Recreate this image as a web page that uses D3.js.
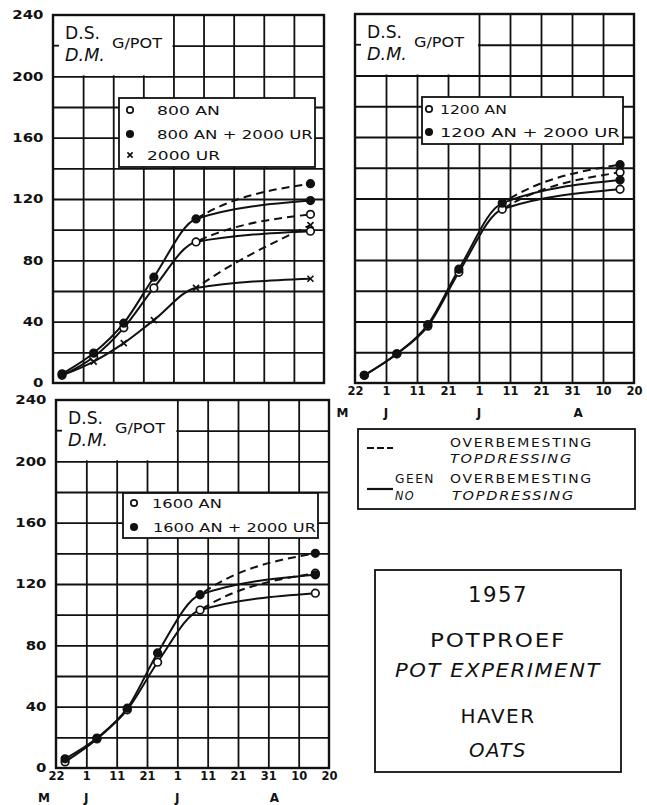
<!DOCTYPE html>
<html lang="nl">
<meta charset="utf-8">
<script src="https://d3js.org/d3.v7.min.js"></script>
<style>
  body { margin: 0; background: #fff; }
  text { font-family: "DejaVu Sans", sans-serif; fill: #111; }
  .grid line { stroke: #111; stroke-width: 1.8; }
  .grid path { display: none; }
  .frame { fill: none; stroke: #111; stroke-width: 2.4; }
  .curve { fill: none; stroke: #111; stroke-width: 2; }
  .dash { stroke-dasharray: 8 5; }
  .box { fill: #fff; stroke: #111; stroke-width: 1.8; }
  .lbl path { display: none; }
  .lbl text { font-size: 11.5px; font-weight: bold; fill: #111; font-family: "DejaVu Sans", sans-serif; }
</style>
<body>
<svg width="647" height="805"></svg>
<script>
// harvest dates, days after 22 May 1957
var sampleDays = [3, 13.5, 23.5, 33.5, 47.5];
var lastDay = 85.5;

var dayTicks = [0, 10, 20, 30, 40, 50, 60, 70, 80, 90];
var dayLabels = ["22", "1", "11", "21", "1", "11", "21", "31", "10", "20"];
var monthDays = [-4, 10, 40, 72];
var monthLabels = ["M", "J", "J", "A"];
var yTicks = [0, 40, 80, 120, 160, 200, 240];

// dry matter g/pot; last value: [topdressing, no topdressing]
var an800 = [5, 17, 36, 62, 92],       an800End = [110, 99];
var an800ur = [6, 19.5, 39, 69, 107],  an800urEnd = [130, 119];
var ur2000 = [5, 14, 26, 41, 62],      ur2000End = [103, 68];

var an1200 = [5, 19, 37, 72, 113],     an1200End = [137, 126];
var an1200ur = [5, 19, 38, 74, 117],   an1200urEnd = [142, 132];

var an1600 = [4, 19, 38, 69, 103],     an1600End = [127, 114];
var an1600ur = [6, 19.5, 39, 75, 113], an1600urEnd = [140, 126];

var svg = d3.select("svg");
var defs = svg.append("defs");

// lettering-stencil look: stretch text to the width it has in the drawing
function fitText(g, str, x, y, width, size, opt) {
  opt = opt || {};
  var t = g.append("text").attr("font-size", size)
    .attr("font-style", opt.italic ? "italic" : "normal")
    .attr("letter-spacing", opt.spacing || 0)
    .attr("text-anchor", opt.anchor || "start")
    .text(str);
  var w = t.node().getComputedTextLength();
  t.attr("transform", "translate(" + x + "," + y + ") scale(" + (width / w) + ",1)");
  return t;
}

function marker(g, kind, cx, cy, r) {
  if (kind == "x") {
    g.append("path").attr("d", "M" + (cx - r) + "," + (cy - r) + "L" + (cx + r) + "," + (cy + r) +
      "M" + (cx - r) + "," + (cy + r) + "L" + (cx + r) + "," + (cy - r))
      .attr("stroke", "#111").attr("stroke-width", 1.7);
  } else {
    g.append("circle").attr("cx", cx).attr("cy", cy).attr("r", r)
      .attr("fill", kind == "filled" ? "#111" : "#fff")
      .attr("stroke", "#111").attr("stroke-width", 1.7);
  }
}

function panel(p, id) {
  var x = d3.scaleLinear().domain([0, 90]).range([p.x0, p.x1]);
  var y = d3.scaleLinear().domain([0, 240]).range([p.y1, p.y0]);
  var g = svg.append("g");

  // grid every 20 g and every 10 days
  g.append("g").attr("class", "grid").attr("transform", "translate(" + p.x0 + ",0)")
    .call(d3.axisLeft(y).tickValues(d3.range(20, 240, 20)).tickSize(-(p.x1 - p.x0)).tickFormat(""));
  g.append("g").attr("class", "grid").attr("transform", "translate(0," + p.y1 + ")")
    .call(d3.axisBottom(x).tickValues(d3.range(10, 90, 10)).tickSize(-(p.y1 - p.y0)).tickFormat(""));

  // unit box in the corner
  g.append("rect").attr("x", x(0) + 1).attr("y", y(240) + 1)
    .attr("width", x(40) - x(0) - 2).attr("height", y(200) - y(240) - 2).attr("fill", "#fff");
  g.append("line").attr("x1", x(0)).attr("x2", x(0) + 6).attr("y1", y(220)).attr("y2", y(220))
    .attr("stroke", "#111").attr("stroke-width", 1.8);
  fitText(g, "D.S.", p.x0 + 12, p.y0 + 24, 35, 17);
  fitText(g, "D.M.", p.x0 + 12, p.y0 + 46, 40, 17, {italic: true});
  fitText(g, "G/POT", p.x0 + 59, p.y0 + 33, 50, 13.5);

  g.append("rect").attr("class", "frame").attr("x", p.x0).attr("y", p.y0)
    .attr("width", p.x1 - p.x0).attr("height", p.y1 - p.y0);

  // curves: common part + no topdressing solid, topdressing dashed after last common harvest
  defs.append("clipPath").attr("id", "clip" + id).append("rect")
    .attr("x", x(sampleDays[4])).attr("y", p.y0).attr("width", p.x1 - x(sampleDays[4])).attr("height", p.y1 - p.y0);
  var line = d3.line().x(d => x(d[0])).y(d => y(d[1])).curve(d3.curveMonotoneX);
  p.series.forEach(function(s) {
    var pts = sampleDays.map((d, i) => [d, s.values[i]]);
    var solid = pts.concat([[lastDay, s.end[1]]]);
    var dashed = pts.concat([[lastDay, s.end[0]]]);
    g.append("path").attr("class", "curve").attr("d", line(solid));
    g.append("path").attr("class", "curve dash").attr("clip-path", "url(#clip" + id + ")").attr("d", line(dashed));
  });
  p.series.forEach(function(s) {
    var pts = sampleDays.map((d, i) => [d, s.values[i]]);
    pts.push([lastDay, s.end[0]], [lastDay, s.end[1]]);
    pts.forEach(d => marker(g, s.kind, x(d[0]), y(d[1]), s.kind == "x" ? 3 : 3.8));
  });

  // series legend
  var L = p.legend;
  g.append("rect").attr("class", "box").attr("x", L.x).attr("y", L.y).attr("width", L.w).attr("height", L.h);
  p.series.forEach(function(s, i) {
    marker(g, s.kind, L.mx, L.rows[i], s.kind == "x" ? 2.6 : 3.2);
    fitText(g, s.name, L.tx[i], L.rows[i] + 4.5, L.tw[i], 12);
  });

  if (p.yLabels) {
    g.append("g").attr("class", "lbl").attr("transform", "translate(" + (p.x0 - 3) + ",0)")
      .call(d3.axisLeft(y).tickValues(yTicks).tickSize(0).tickPadding(5))
      .selectAll("text").attr("transform", "scale(1.3,1)");
  }
  if (p.xLabels) {
    g.append("g").attr("class", "lbl").attr("transform", "translate(0," + p.y1 + ")")
      .call(d3.axisBottom(x).tickValues(dayTicks).tickSize(0).tickPadding(3.5).tickFormat((d, i) => dayLabels[i]));
    g.selectAll(null).data(monthDays).join("text")
      .attr("x", d => x(d)).attr("y", p.y1 + 34).attr("text-anchor", "middle")
      .attr("font-size", 12).attr("font-weight", "bold").text((d, i) => monthLabels[i]);
  }
}

panel({
  x0: 53, x1: 324, y0: 15, y1: 383, yLabels: true, xLabels: false,
  series: [
    {name: "800 AN", kind: "open", values: an800, end: an800End},
    {name: "800 AN + 2000 UR", kind: "filled", values: an800ur, end: an800urEnd},
    {name: "2000 UR", kind: "x", values: ur2000, end: ur2000End}
  ],
  legend: {x: 119, y: 98, w: 196, h: 69, mx: 130, rows: [110, 134, 155], tx: [157, 157, 147], tw: [63, 156, 73]}
}, "a");

panel({
  x0: 355, x1: 634, y0: 14, y1: 383, yLabels: false, xLabels: true,
  series: [
    {name: "1200 AN", kind: "open", values: an1200, end: an1200End},
    {name: "1200 AN + 2000 UR", kind: "filled", values: an1200ur, end: an1200urEnd}
  ],
  legend: {x: 422, y: 97, w: 201, h: 47, mx: 429, rows: [109, 132], tx: [440, 440], tw: [67, 180]}
}, "b");

panel({
  x0: 56, x1: 329, y0: 400, y1: 768, yLabels: true, xLabels: true,
  series: [
    {name: "1600 AN", kind: "open", values: an1600, end: an1600End},
    {name: "1600 AN + 2000 UR", kind: "filled", values: an1600ur, end: an1600urEnd}
  ],
  legend: {x: 123, y: 493, w: 195, h: 45, mx: 134, rows: [503, 527], tx: [152, 153], tw: [70, 163]}
}, "c");

// line style legend
var lg = svg.append("g");
lg.append("rect").attr("class", "box").attr("x", 358).attr("y", 429).attr("width", 277).attr("height", 80);
lg.append("line").attr("x1", 367).attr("x2", 393).attr("y1", 448).attr("y2", 448)
  .attr("stroke", "#111").attr("stroke-width", 2.2).attr("stroke-dasharray", "7 3");
lg.append("line").attr("x1", 367).attr("x2", 393).attr("y1", 489).attr("y2", 489)
  .attr("stroke", "#111").attr("stroke-width", 2.2);
[
  {t: "OVERBEMESTING", x: 450, y: 447, w: 143, it: false},
  {t: "TOPDRESSING", x: 450, y: 463, w: 123, it: true},
  {t: "GEEN", x: 395, y: 483, w: 40, it: false},
  {t: "OVERBEMESTING", x: 450, y: 483, w: 143, it: false},
  {t: "NO", x: 395, y: 500, w: 20, it: true},
  {t: "TOPDRESSING", x: 452, y: 500, w: 123, it: true}
].forEach(function(d) {
  fitText(lg, d.t, d.x, d.y, d.w, 12.5, {italic: d.it, spacing: 1.5});
});

// title box
var tg = svg.append("g");
tg.append("rect").attr("class", "box").attr("x", 375).attr("y", 570).attr("width", 246).attr("height", 202);
[
  {t: "1957", y: 602, w: 60, s: 22, it: false},
  {t: "POTPROEF", y: 647, w: 136, s: 20, it: false},
  {t: "POT EXPERIMENT", y: 677, w: 206, s: 20, it: true},
  {t: "HAVER", y: 723, w: 75, s: 20, it: false},
  {t: "OATS", y: 757, w: 58, s: 20, it: true}
].forEach(function(d) {
  fitText(tg, d.t, 498, d.y, d.w, d.s, {italic: d.it, anchor: "middle", spacing: 1.5});
});
</script>
</body>
</html>
